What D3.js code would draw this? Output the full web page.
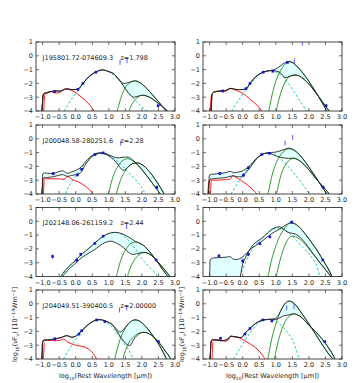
<!DOCTYPE html>
<html>
<head>
<meta charset="utf-8">
<script src="https://cdn.jsdelivr.net/npm/d3@7"></script>
<style>
    body { margin: 0; background: #fff; }
    text { font-family: "DejaVu Sans", sans-serif; fill: #222; }
</style>
</head>
<body>
<div id="chart"></div>
<script>
'use strict';

const xTicks = [-1.0, -0.5, 0.0, 0.5, 1.0, 1.5, 2.0, 2.5, 3.0];
const yTicks = [1, 0, -1, -2, -3, -4];

const sourceNames = ['J195801.72-074609.3', '', 'J200048.58-280251.6', '', 'J202148.06-261159.2', '', 'J204049.51-390400.5', ''];
const redshiftLabels = ['z=1.798', '', 'z=2.28', '', 'z=2.44', '', 'z=2.00000', ''];

// stellar (red)
const stellarCurves = [
    [[-1.03,-4.3],[-1.0,-3.3],[-0.97,-2.8],[-0.9,-2.75],[-0.75,-2.6],[-0.6,-2.7],[-0.45,-2.62],[-0.35,-2.42],[-0.2,-2.45],[-0.05,-2.6],[0.1,-2.85],[0.25,-3.15],[0.4,-3.5],[0.55,-3.98],[0.62,-4.3]],
    [[-0.96,-4.3],[-0.94,-3.3],[-0.91,-2.72],[-0.8,-2.6],[-0.65,-2.55],[-0.5,-2.55],[-0.38,-2.38],[-0.25,-2.45],[-0.1,-2.6],[0.05,-2.8],[0.2,-3.1],[0.35,-3.4],[0.5,-3.75],[0.57,-4.0],[0.62,-4.3]],
    [[-1.03,-4.3],[-1.01,-3.5],[-0.99,-2.95],[-0.9,-2.9],[-0.7,-2.9],[-0.5,-2.9],[-0.35,-2.93],[-0.25,-2.75],[-0.1,-2.95],[0.1,-3.15],[0.3,-3.45],[0.48,-3.88],[0.53,-4.3]],
    [[-1.06,-4.3],[-1.04,-3.5],[-1.0,-3.0],[-0.9,-3.0],[-0.74,-3.0],[-0.5,-2.95],[-0.38,-2.92],[-0.3,-2.65],[-0.2,-2.8],[0.0,-3.1],[0.2,-3.45],[0.35,-3.8],[0.42,-4.0],[0.46,-4.3]],
    null,
    null,
    [[-1.03,-4.3],[-1.01,-3.4],[-0.98,-2.68],[-0.85,-2.66],[-0.68,-2.67],[-0.5,-2.66],[-0.37,-2.55],[-0.28,-2.7],[-0.18,-2.85],[0.0,-3.0],[0.28,-3.14],[0.45,-3.4],[0.53,-3.62],[0.63,-4.0],[0.67,-4.3]],
    [[-0.99,-4.3],[-0.97,-3.4],[-0.94,-2.65],[-0.85,-2.6],[-0.74,-2.6],[-0.6,-2.68],[-0.5,-2.72],[-0.42,-2.55],[-0.38,-2.38],[-0.25,-2.4],[-0.13,-2.45],[0.05,-2.65],[0.22,-2.9],[0.4,-3.2],[0.52,-3.5],[0.62,-3.8],[0.67,-4.0],[0.7,-4.3]]
];
const stellarEdges = [
    [[-0.97,-4.3],[-0.955,-3.4],[-0.94,-2.85]],
    [[-0.99,-4.3],[-0.97,-3.4],[-0.95,-2.9]],
    [[-0.98,-4.3],[-0.965,-3.5],[-0.95,-3.0]],
    [[-0.98,-4.3],[-0.965,-3.5],[-0.95,-3.05]],
    null,
    null,
    [[-0.98,-4.3],[-0.965,-3.5],[-0.95,-2.8]],
    [[-0.93,-4.3],[-0.915,-3.4],[-0.9,-2.75]]
];

// hot dust / torus (cyan dashed)
const torusCurves = [
    [[-0.4,-4.3],[-0.3,-3.8],[-0.1,-3.05],[0.1,-2.45],[0.3,-1.8],[0.5,-1.35],[0.7,-1.1],[0.85,-1.05],[1.0,-1.15],[1.2,-1.5],[1.4,-2.05],[1.6,-2.7],[1.8,-3.25],[2.0,-3.7],[2.2,-4.05]],
    [[-0.4,-4.3],[-0.33,-4.0],[-0.15,-3.3],[0.05,-2.65],[0.25,-2.0],[0.45,-1.45],[0.65,-1.15],[0.8,-1.07],[0.95,-1.12],[1.15,-1.4],[1.35,-1.9],[1.55,-2.6],[1.75,-3.35],[1.93,-4.0],[2.0,-4.3]],
    [[-0.32,-4.3],[-0.27,-3.76],[-0.1,-3.05],[0.1,-2.35],[0.3,-1.75],[0.5,-1.3],[0.65,-1.12],[0.8,-1.08],[1.0,-1.2],[1.2,-1.5],[1.4,-1.95],[1.6,-2.45],[1.8,-2.95],[1.94,-3.35],[2.05,-3.75],[2.15,-4.3]],
    [[-0.42,-4.3],[-0.35,-4.0],[-0.15,-3.2],[0.05,-2.5],[0.25,-1.85],[0.45,-1.35],[0.6,-1.12],[0.75,-1.05],[0.9,-1.1],[1.1,-1.35],[1.3,-1.8],[1.5,-2.35],[1.7,-2.95],[1.9,-3.6],[2.0,-4.0],[2.05,-4.3]],
    [[-0.5,-4.3],[-0.38,-3.8],[-0.18,-3.25],[0.05,-2.72],[0.22,-2.32],[0.42,-1.92],[0.6,-1.53],[0.85,-1.06],[1.0,-0.88],[1.19,-0.8],[1.4,-0.95],[1.6,-1.4],[1.8,-2.0],[1.94,-2.5],[2.1,-3.0],[2.3,-3.5],[2.45,-3.9],[2.52,-4.3]],
    [[-0.12,-4.3],[-0.05,-3.8],[0.1,-2.9],[0.3,-2.0],[0.5,-1.45],[0.7,-0.95],[0.9,-0.6],[1.05,-0.5],[1.2,-0.55],[1.4,-0.85],[1.6,-1.35],[1.8,-1.85],[2.0,-2.35],[2.13,-2.75],[2.25,-3.3],[2.33,-4.0],[2.36,-4.3]],
    [[-0.42,-4.3],[-0.37,-4.0],[-0.2,-3.3],[0.0,-2.6],[0.2,-1.95],[0.4,-1.5],[0.55,-1.25],[0.72,-1.15],[0.9,-1.3],[1.1,-1.7],[1.3,-2.3],[1.5,-3.0],[1.65,-3.55],[1.74,-4.0],[1.78,-4.3]],
    [[-0.33,-4.3],[-0.28,-4.0],[-0.1,-3.3],[0.1,-2.55],[0.3,-1.85],[0.5,-1.35],[0.7,-1.15],[0.85,-1.12],[1.0,-1.25],[1.2,-1.65],[1.35,-2.05],[1.5,-2.6],[1.6,-3.2],[1.7,-4.0],[1.73,-4.3]]
];

// greybody components (green)
const warmDustCurves = [
    [[1.22,-4.3],[1.3,-3.6],[1.4,-2.8],[1.5,-2.3],[1.6,-2.02],[1.7,-1.87],[1.8,-1.83],[1.9,-1.9],[2.0,-2.05],[2.2,-2.5],[2.4,-3.05],[2.6,-3.6],[2.75,-4.05],[2.85,-4.3]],
    [[0.76,-4.3],[0.82,-3.6],[0.9,-2.7],[1.0,-1.85],[1.1,-1.25],[1.2,-0.85],[1.3,-0.55],[1.4,-0.45],[1.5,-0.5],[1.6,-0.68],[1.8,-1.2],[2.0,-1.85],[2.2,-2.6],[2.4,-3.4],[2.55,-4.05],[2.6,-4.3]],
    [[0.96,-4.3],[1.02,-3.7],[1.1,-2.95],[1.2,-2.3],[1.3,-1.9],[1.4,-1.6],[1.54,-1.45],[1.65,-1.5],[1.8,-1.75],[2.0,-2.25],[2.2,-2.85],[2.4,-3.5],[2.55,-4.0],[2.6,-4.3]],
    [[0.73,-4.3],[0.79,-3.7],[0.87,-2.8],[0.97,-2.0],[1.07,-1.45],[1.17,-1.1],[1.27,-0.85],[1.38,-0.72],[1.5,-0.78],[1.62,-0.95],[1.8,-1.4],[2.0,-2.05],[2.2,-2.75],[2.4,-3.5],[2.54,-4.0],[2.6,-4.3]],
    [[1.2,-4.3],[1.26,-3.7],[1.35,-2.9],[1.45,-2.3],[1.55,-1.9],[1.67,-1.6],[1.79,-1.5],[1.9,-1.55],[2.05,-1.75],[2.25,-2.25],[2.43,-2.8],[2.6,-3.4],[2.78,-4.0],[2.85,-4.3]],
    [[0.73,-4.3],[0.79,-3.7],[0.87,-2.8],[0.97,-2.0],[1.07,-1.35],[1.17,-0.85],[1.3,-0.4],[1.43,-0.1],[1.55,-0.15],[1.7,-0.4],[1.9,-0.95],[2.1,-1.6],[2.3,-2.3],[2.42,-2.8],[2.55,-3.3],[2.69,-3.95],[2.75,-4.3]],
    [[1.15,-4.3],[1.21,-3.7],[1.3,-2.9],[1.4,-2.2],[1.52,-1.7],[1.65,-1.32],[1.79,-1.17],[1.92,-1.25],[2.1,-1.6],[2.3,-2.2],[2.5,-2.9],[2.65,-3.55],[2.74,-4.0],[2.8,-4.3]],
    [[0.73,-4.3],[0.79,-3.6],[0.87,-2.6],[0.97,-1.7],[1.07,-0.95],[1.17,-0.4],[1.27,-0.02],[1.38,0.18],[1.5,0.12],[1.62,-0.15],[1.8,-0.75],[2.0,-1.45],[2.2,-2.2],[2.4,-2.95],[2.6,-3.65],[2.74,-4.05],[2.78,-4.3]]
];
const coldDustCurves = [
    [[1.58,-4.3],[1.65,-3.75],[1.75,-3.3],[1.85,-3.05],[1.95,-2.9],[2.05,-2.86],[2.15,-2.92],[2.3,-3.1],[2.5,-3.45],[2.7,-3.85],[2.85,-4.15],[2.92,-4.3]],
    [[0.99,-4.3],[1.05,-3.6],[1.15,-2.7],[1.25,-2.05],[1.35,-1.65],[1.45,-1.45],[1.58,-1.38],[1.7,-1.45],[1.85,-1.7],[2.0,-2.05],[2.2,-2.65],[2.4,-3.3],[2.55,-3.8],[2.65,-4.1],[2.7,-4.3]],
    [[1.2,-4.3],[1.26,-3.7],[1.35,-3.0],[1.45,-2.5],[1.6,-2.0],[1.72,-1.8],[1.84,-1.74],[1.95,-1.8],[2.1,-2.05],[2.3,-2.6],[2.5,-3.3],[2.65,-3.9],[2.72,-4.3]],
    [[0.99,-4.3],[1.05,-3.7],[1.13,-2.85],[1.23,-2.15],[1.33,-1.75],[1.43,-1.5],[1.53,-1.43],[1.65,-1.5],[1.8,-1.75],[2.0,-2.25],[2.2,-2.85],[2.4,-3.4],[2.6,-3.95],[2.69,-4.3]],
    [[1.54,-4.3],[1.6,-3.7],[1.7,-3.1],[1.8,-2.7],[1.92,-2.4],[2.04,-2.27],[2.15,-2.3],[2.3,-2.5],[2.45,-2.85],[2.65,-3.4],[2.85,-4.0],[2.95,-4.3]],
    [[0.98,-4.3],[1.04,-3.7],[1.12,-2.9],[1.22,-2.1],[1.32,-1.5],[1.4,-1.2],[1.48,-1.08],[1.6,-1.12],[1.75,-1.35],[1.9,-1.7],[2.1,-2.3],[2.3,-2.9],[2.5,-3.5],[2.65,-3.95],[2.79,-4.3]],
    [[1.4,-4.3],[1.46,-3.7],[1.55,-3.1],[1.65,-2.65],[1.8,-2.3],[1.92,-2.12],[2.04,-2.07],[2.15,-2.1],[2.3,-2.3],[2.5,-2.75],[2.7,-3.4],[2.85,-3.9],[2.92,-4.3]],
    [[0.93,-4.3],[0.99,-3.6],[1.08,-2.65],[1.18,-1.85],[1.28,-1.3],[1.4,-0.92],[1.53,-0.74],[1.65,-0.8],[1.8,-1.05],[2.0,-1.55],[2.2,-2.02],[2.4,-2.57],[2.6,-3.22],[2.75,-3.82],[2.84,-4.3]]
];

// total model, the two fits (black), filled between
const totalUpper = [
    [[-1.03,-4.3],[-1.0,-3.3],[-0.97,-2.75],[-0.85,-2.65],[-0.65,-2.55],[-0.45,-2.55],[-0.3,-2.4],[-0.1,-2.45],[0.07,-2.4],[0.22,-2.0],[0.4,-1.5],[0.6,-1.18],[0.8,-1.02],[1.0,-1.15],[1.14,-1.29],[1.3,-1.7],[1.44,-2.0],[1.6,-1.93],[1.75,-1.82],[1.8,-1.81],[1.9,-1.88],[2.0,-2.04],[2.2,-2.5],[2.4,-3.05],[2.6,-3.6],[2.75,-4.05],[2.85,-4.3]],
    [[-0.96,-4.3],[-0.94,-3.3],[-0.91,-2.7],[-0.8,-2.58],[-0.6,-2.55],[-0.5,-2.5],[-0.38,-2.36],[-0.25,-2.42],[-0.1,-2.45],[0.1,-2.38],[0.22,-2.0],[0.4,-1.5],[0.62,-1.18],[0.87,-1.05],[1.0,-0.95],[1.1,-0.8],[1.2,-0.62],[1.3,-0.47],[1.4,-0.4],[1.5,-0.47],[1.6,-0.66],[1.8,-1.2],[2.0,-1.85],[2.2,-2.6],[2.4,-3.4],[2.55,-4.05],[2.6,-4.3]],
    [[-1.03,-4.3],[-1.0,-3.3],[-0.98,-2.5],[-0.85,-2.5],[-0.68,-2.52],[-0.52,-2.38],[-0.37,-2.33],[-0.27,-2.5],[-0.12,-2.4],[0.13,-2.12],[0.3,-1.65],[0.53,-1.15],[0.78,-1.0],[1.04,-1.2],[1.24,-1.38],[1.4,-1.35],[1.54,-1.32],[1.65,-1.4],[1.8,-1.7],[2.0,-2.22],[2.2,-2.85],[2.4,-3.5],[2.55,-4.0],[2.6,-4.3]],
    [[-1.04,-4.3],[-1.02,-3.3],[-0.99,-2.6],[-0.89,-2.57],[-0.69,-2.5],[-0.5,-2.45],[-0.38,-2.35],[-0.28,-2.45],[-0.15,-2.42],[-0.03,-2.35],[0.22,-1.95],[0.4,-1.45],[0.57,-1.14],[0.77,-1.0],[0.95,-0.98],[1.1,-0.9],[1.25,-0.78],[1.38,-0.68],[1.5,-0.75],[1.62,-0.93],[1.8,-1.38],[2.0,-2.05],[2.2,-2.75],[2.4,-3.5],[2.54,-4.0],[2.6,-4.3]],
    [[-0.52,-4.3],[-0.4,-3.8],[-0.2,-3.25],[0.03,-2.75],[0.2,-2.35],[0.4,-1.95],[0.58,-1.56],[0.83,-1.08],[1.0,-0.88],[1.19,-0.8],[1.4,-0.9],[1.64,-1.2],[1.78,-1.42],[1.9,-1.55],[2.05,-1.75],[2.25,-2.25],[2.43,-2.8],[2.6,-3.4],[2.78,-4.0],[2.85,-4.3]],
    [[-1.0,-4.3],[-0.99,-3.3],[-0.97,-2.75],[-0.85,-2.65],[-0.69,-2.63],[-0.5,-2.6],[-0.38,-2.56],[-0.28,-2.75],[-0.15,-2.75],[-0.03,-2.63],[0.12,-2.3],[0.27,-1.95],[0.52,-1.56],[0.77,-1.08],[0.95,-0.78],[1.12,-0.56],[1.28,-0.3],[1.43,-0.12],[1.55,-0.15],[1.7,-0.4],[1.9,-0.95],[2.1,-1.6],[2.3,-2.3],[2.42,-2.8],[2.55,-3.3],[2.69,-3.95],[2.75,-4.3]],
    [[-1.03,-4.3],[-1.01,-3.4],[-0.98,-2.66],[-0.85,-2.62],[-0.63,-2.55],[-0.45,-2.45],[-0.27,-2.31],[-0.12,-2.42],[0.0,-2.35],[0.13,-2.07],[0.33,-1.6],[0.5,-1.3],[0.63,-1.17],[0.78,-1.16],[0.95,-1.3],[1.09,-1.48],[1.22,-1.8],[1.34,-2.05],[1.45,-1.85],[1.55,-1.55],[1.65,-1.3],[1.79,-1.16],[1.92,-1.24],[2.1,-1.6],[2.3,-2.2],[2.5,-2.9],[2.65,-3.55],[2.74,-4.0],[2.8,-4.3]],
    [[-0.99,-4.3],[-0.97,-3.3],[-0.94,-2.65],[-0.85,-2.62],[-0.69,-2.67],[-0.55,-2.65],[-0.42,-2.5],[-0.38,-2.36],[-0.2,-2.4],[-0.03,-2.43],[0.07,-2.12],[0.22,-1.79],[0.4,-1.4],[0.62,-1.17],[0.87,-1.12],[1.03,-1.0],[1.15,-0.5],[1.27,0.0],[1.38,0.19],[1.5,0.13],[1.62,-0.14],[1.8,-0.75],[2.0,-1.45],[2.2,-2.2],[2.4,-2.95],[2.6,-3.65],[2.74,-4.05],[2.78,-4.3]]
];
const totalLower = [
    [[-1.03,-4.3],[-1.0,-3.3],[-0.97,-2.75],[-0.85,-2.65],[-0.65,-2.55],[-0.45,-2.55],[-0.3,-2.4],[-0.1,-2.45],[0.07,-2.4],[0.22,-2.0],[0.4,-1.5],[0.6,-1.18],[0.8,-1.02],[1.0,-1.15],[1.14,-1.29],[1.3,-1.7],[1.45,-2.2],[1.55,-2.55],[1.65,-2.85],[1.74,-3.0],[1.85,-2.95],[1.95,-2.88],[2.05,-2.86],[2.15,-2.92],[2.3,-3.1],[2.5,-3.45],[2.7,-3.85],[2.85,-4.15],[2.92,-4.3]],
    [[-0.96,-4.3],[-0.94,-3.3],[-0.91,-2.7],[-0.8,-2.58],[-0.6,-2.55],[-0.5,-2.5],[-0.38,-2.36],[-0.25,-2.42],[-0.1,-2.45],[0.1,-2.38],[0.22,-2.0],[0.4,-1.5],[0.62,-1.18],[0.87,-1.07],[1.0,-1.1],[1.13,-1.22],[1.28,-1.58],[1.4,-1.5],[1.58,-1.4],[1.7,-1.45],[1.85,-1.7],[2.0,-2.05],[2.2,-2.65],[2.4,-3.3],[2.55,-3.8],[2.65,-4.1],[2.7,-4.3]],
    [[-1.03,-4.3],[-1.0,-3.4],[-0.98,-2.85],[-0.85,-2.8],[-0.68,-2.75],[-0.52,-2.65],[-0.37,-2.6],[-0.27,-2.72],[-0.12,-2.65],[0.13,-2.5],[0.3,-1.85],[0.53,-1.2],[0.78,-1.05],[1.04,-1.3],[1.24,-1.75],[1.44,-2.29],[1.6,-2.0],[1.72,-1.8],[1.84,-1.74],[1.95,-1.8],[2.1,-2.05],[2.3,-2.6],[2.5,-3.3],[2.65,-3.9],[2.72,-4.3]],
    [[-1.04,-4.3],[-1.02,-3.4],[-0.99,-2.95],[-0.89,-2.9],[-0.69,-2.85],[-0.5,-2.8],[-0.38,-2.72],[-0.28,-2.7],[-0.15,-2.75],[-0.03,-2.72],[0.22,-2.1],[0.4,-1.5],[0.57,-1.16],[0.77,-1.03],[1.03,-1.26],[1.23,-1.38],[1.38,-1.42],[1.53,-1.4],[1.65,-1.48],[1.8,-1.75],[2.0,-2.25],[2.2,-2.85],[2.4,-3.4],[2.6,-3.95],[2.69,-4.3]],
    [[-0.48,-4.3],[-0.35,-3.85],[-0.15,-3.35],[0.03,-2.96],[0.2,-2.6],[0.4,-2.3],[0.58,-2.04],[0.8,-1.65],[1.04,-1.44],[1.25,-1.6],[1.44,-1.9],[1.6,-2.25],[1.69,-2.39],[1.8,-2.38],[1.92,-2.3],[2.04,-2.25],[2.15,-2.28],[2.3,-2.5],[2.45,-2.85],[2.65,-3.4],[2.85,-4.0],[2.95,-4.3]],
    [[-0.1,-4.3],[-0.05,-3.7],[0.0,-3.1],[0.1,-2.55],[0.2,-2.1],[0.32,-1.68],[0.47,-1.4],[0.62,-1.15],[0.77,-0.8],[0.92,-0.52],[1.12,-0.4],[1.25,-0.6],[1.35,-0.78],[1.48,-0.86],[1.6,-0.93],[1.75,-1.2],[1.9,-1.6],[2.1,-2.25],[2.3,-2.9],[2.5,-3.5],[2.65,-3.95],[2.79,-4.3]],
    [[-1.03,-4.3],[-1.01,-3.4],[-0.98,-2.66],[-0.85,-2.62],[-0.63,-2.55],[-0.45,-2.45],[-0.27,-2.31],[-0.12,-2.42],[0.0,-2.35],[0.13,-2.07],[0.33,-1.6],[0.5,-1.3],[0.63,-1.17],[0.78,-1.16],[0.95,-1.3],[1.09,-1.48],[1.3,-2.2],[1.5,-2.85],[1.64,-3.02],[1.75,-2.6],[1.85,-2.3],[1.95,-2.12],[2.04,-2.07],[2.15,-2.1],[2.3,-2.3],[2.5,-2.75],[2.7,-3.4],[2.85,-3.9],[2.92,-4.3]],
    [[-0.99,-4.3],[-0.97,-3.3],[-0.94,-2.65],[-0.85,-2.62],[-0.69,-2.67],[-0.55,-2.65],[-0.42,-2.5],[-0.38,-2.36],[-0.2,-2.4],[-0.03,-2.43],[0.07,-2.12],[0.22,-1.79],[0.4,-1.4],[0.62,-1.17],[0.87,-1.12],[1.03,-1.12],[1.23,-0.88],[1.4,-0.8],[1.53,-0.72],[1.65,-0.79],[1.8,-1.03],[2.0,-1.55],[2.2,-2.0],[2.4,-2.55],[2.6,-3.2],[2.75,-3.8],[2.84,-4.3]]
];

// photometry: [log lambda, log nuFnu, error]
const photometry = [
    [[-0.64,-2.6,0.1],[0.07,-2.43,0.06],[0.22,-2.0,0.06],[0.61,-1.19,0.05],[2.49,-3.62,0.12]],
    [[-0.6,-2.55,0.1],[0.1,-2.38,0.06],[0.22,-2.0,0.06],[0.62,-1.19,0.05],[0.91,-1.12,0.05],[1.35,-0.48,0.05],[2.52,-3.62,0.12]],
    [[-0.68,-2.52,0.12],[0.05,-2.62,0.1],[0.18,-2.21,0.06],[0.58,-1.14,0.05],[0.83,-1.02,0.05],[2.45,-3.52,0.15]],
    [[-0.69,-2.52,0.12],[0.02,-2.64,0.15],[0.17,-2.1,0.06],[0.57,-1.14,0.05],[0.8,-1.05,0.05],[2.43,-3.52,0.15]],
    [[-0.7,-2.55,0.15],[0.03,-2.82,0.2],[0.15,-2.39,0.08],[0.58,-1.6,0.05],[0.83,-1.08,0.05],[2.43,-2.8,0.05]],
    [[-0.72,-2.51,0.12],[0.0,-2.87,0.15],[0.17,-2.39,0.15],[0.52,-1.61,0.05],[0.82,-1.13,0.05],[1.48,-0.06,0.12],[2.42,-2.8,0.05]],
    [[-0.63,-2.55,0.15],[0.1,-2.19,0.06],[0.18,-1.95,0.06],[0.63,-1.17,0.05],[0.88,-1.29,0.05],[2.5,-2.74,0.06]],
    [[-0.67,-2.5,0.1],[0.07,-2.19,0.06],[0.22,-1.79,0.06],[0.6,-1.17,0.05],[0.88,-1.24,0.05],[2.48,-2.74,0.06]]
];
// far-IR upper limits
const upperLimits = [
    [[1.34,-0.48],[1.55,-0.36],[1.8,0.95]],
    [[1.56,-0.36],[1.8,0.92]],
    [[1.36,-0.31]],
    [[1.28,-0.31],[1.51,0.1]],
    [[1.54,-0.37]],
    [],
    [[1.32,-0.45],[1.54,-0.29]],
    [[1.33,-0.29],[1.55,-0.21]]
];

class SedPanel {

    constructor(svg, index, left, top, width, height, options) {
        this.svg = svg;
        this.index = index;
        this.left = left;
        this.top = top;
        this.width = width;
        this.height = height;
        this.options = options || {};
    }

    render() {

        let self = this;
        let i = this.index;

        let g = this.svg.append('g')
            .attr('transform', 'translate(' + this.left + ',' + this.top + ')');

        let x = d3.scaleLinear().domain([-1.2, 3.0]).range([0, this.width]);
        let y = d3.scaleLinear().domain([-4, 1]).range([this.height, 0]);

        let clipId = 'clip-' + i;
        g.append('clipPath').attr('id', clipId)
            .append('rect')
            .attr('width', this.width)
            .attr('height', this.height);

        let line = d3.line()
            .x(function (d) { return x(d[0]); })
            .y(function (d) { return y(d[1]); })
            .curve(d3.curveCatmullRom.alpha(0.5));

        let plot = g.append('g').attr('clip-path', 'url(#' + clipId + ')');

        // fill between the two totals
        let upper = totalUpper[i];
        let lower = totalLower[i].slice().reverse();
        plot.append('path')
            .attr('d', line(upper) + 'L' + line(lower).substring(1) + 'Z')
            .style('fill', '#e0ffff')
            .style('stroke', 'none');

        if (stellarCurves[i]) {
            [stellarCurves[i], stellarEdges[i]].forEach(function (c) {
                plot.append('path')
                    .attr('d', line(c))
                    .style('fill', 'none')
                    .style('stroke', '#ff0000')
                    .style('stroke-width', 0.9);
            });
        }

        plot.append('path')
            .attr('d', line(torusCurves[i]))
            .style('fill', 'none')
            .style('stroke', '#00bfbf')
            .style('stroke-width', 0.9)
            .style('stroke-dasharray', '2.5,2');

        [warmDustCurves[i], coldDustCurves[i]].forEach(function (c) {
            plot.append('path')
                .attr('d', line(c))
                .style('fill', 'none')
                .style('stroke', '#1f8f1f')
                .style('stroke-width', 0.9);
        });

        [totalUpper[i], totalLower[i]].forEach(function (c) {
            plot.append('path')
                .attr('d', line(c))
                .style('fill', 'none')
                .style('stroke', '#222')
                .style('stroke-width', 0.9);
        });

        // photometry with error bars
        let pts = plot.selectAll('.phot').data(photometry[i]).enter().append('g').attr('class', 'phot');
        pts.append('line')
            .attr('x1', function (d) { return x(d[0]); })
            .attr('x2', function (d) { return x(d[0]); })
            .attr('y1', function (d) { return y(d[1] - d[2]); })
            .attr('y2', function (d) { return y(d[1] + d[2]); })
            .style('stroke', '#3a3aff')
            .style('stroke-width', 0.8);
        pts.append('rect')
            .attr('x', function (d) { return x(d[0]) - 1.3; })
            .attr('y', function (d) { return y(d[1]) - 1.3; })
            .attr('width', 2.6)
            .attr('height', 2.6)
            .style('fill', '#1414c8');

        plot.selectAll('.limit').data(upperLimits[i]).enter().append('line')
            .attr('class', 'limit')
            .attr('x1', function (d) { return x(d[0]); })
            .attr('x2', function (d) { return x(d[0]); })
            .attr('y1', function (d) { return y(d[1]) - 2.5; })
            .attr('y2', function (d) { return y(d[1]) + 2.5; })
            .style('stroke', '#5a5aff')
            .style('stroke-width', 1);

        // frame and inward ticks on all sides
        g.append('rect')
            .attr('width', this.width)
            .attr('height', this.height)
            .style('fill', 'none')
            .style('stroke', '#333')
            .style('stroke-width', 0.9);

        let tickLen = 3;
        xTicks.forEach(function (t) {
            let px = x(t);
            g.append('line').attr('x1', px).attr('x2', px).attr('y1', self.height).attr('y2', self.height - tickLen)
                .style('stroke', '#333').style('stroke-width', 0.7);
            g.append('line').attr('x1', px).attr('x2', px).attr('y1', 0).attr('y2', tickLen)
                .style('stroke', '#333').style('stroke-width', 0.7);
        });
        yTicks.forEach(function (t) {
            let py = y(t);
            g.append('line').attr('x1', 0).attr('x2', tickLen).attr('y1', py).attr('y2', py)
                .style('stroke', '#333').style('stroke-width', 0.7);
            g.append('line').attr('x1', self.width).attr('x2', self.width - tickLen).attr('y1', py).attr('y2', py)
                .style('stroke', '#333').style('stroke-width', 0.7);
        });

        let fmtX = d3.format('.1f');
        let fmtY = d3.format('d');

        g.selectAll('.xtick').data(xTicks).enter().append('text')
            .attr('class', 'xtick')
            .text(function (d) { return fmtX(d); })
            .attr('x', function (d) { return x(d); })
            .attr('y', this.height + 8)
            .style('font-size', '6.5px')
            .style('text-anchor', 'middle');

        g.selectAll('.ytick').data(yTicks).enter().append('text')
            .attr('class', 'ytick')
            .text(function (d) { return fmtY(d); })
            .attr('x', -3)
            .attr('y', function (d) { return y(d) + 2.3; })
            .style('font-size', '6.5px')
            .style('text-anchor', 'end');

        if (sourceNames[i]) {
            g.append('text')
                .text(sourceNames[i])
                .attr('x', x(-1.0))
                .attr('y', y(-0.27))
                .style('font-size', '6.5px');
            g.append('text')
                .text(redshiftLabels[i])
                .attr('x', x(1.35))
                .attr('y', y(-0.27))
                .style('font-size', '6.5px');
        }

        if (this.options.axisLabels) {
            let xl = g.append('text')
                .attr('x', this.width / 2)
                .attr('y', this.height + 19)
                .style('font-size', '6.5px')
                .style('text-anchor', 'middle');
            xl.append('tspan').text('log');
            xl.append('tspan').text('10').attr('dy', 1.5).style('font-size', '4.5px');
            xl.append('tspan').text('(Rest Wavelength [μm])').attr('dy', -1.5);

            let yl = g.append('text')
                .attr('transform', 'translate(-19,' + (this.height / 2) + ') rotate(-90)')
                .style('font-size', '6.5px')
                .style('text-anchor', 'middle');
            yl.append('tspan').text('log');
            yl.append('tspan').text('10').attr('dy', 1.5).style('font-size', '4.5px');
            yl.append('tspan').text('(νF').attr('dy', -1.5);
            yl.append('tspan').text('ν').attr('dy', 1.5).style('font-size', '4.5px');
            yl.append('tspan').text(') [10').attr('dy', -1.5);
            yl.append('tspan').text('−14').attr('dy', -2.5).style('font-size', '4.5px');
            yl.append('tspan').text('Wm').attr('dy', 2.5);
            yl.append('tspan').text('−2').attr('dy', -2.5).style('font-size', '4.5px');
            yl.append('tspan').text(']').attr('dy', 2.5);
        }
    }
}

let svg = d3.select('#chart').append('svg')
    .attr('width', 359)
    .attr('height', 383);

let colLeft = [36, 203];
let rowTop = [42, 125, 207.5, 290];

for (let i = 0; i < 8; i++) {
    let col = i % 2;
    let row = Math.floor(i / 2);
    let panel = new SedPanel(svg, i, colLeft[col], rowTop[row], 139, 69, { axisLabels: row === 3 });
    panel.render();
}
</script>
</body>
</html>
